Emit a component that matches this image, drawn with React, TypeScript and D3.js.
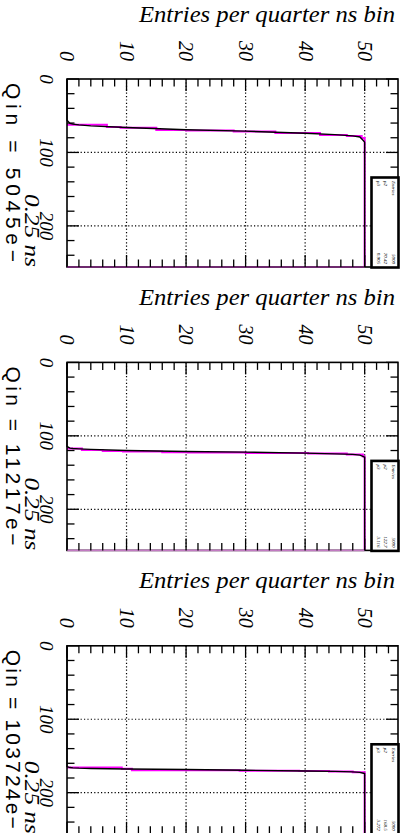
import React from "react";
import * as d3 from "d3";

const W = 401;
const H = 833;
const PANEL_STEP = 283.4;

// axis ticks
const entryTicks = [0, 10, 20, 30, 40, 50];
const timeTicks = [0, 100, 200];

// per-panel text
const qinLabels = ["Qin = 5045e−", "Qin = 11217e−", "Qin = 103724e−"];
const statNames = ["Entries", "p2", "p3"];
const statValues1 = ["5000", "70.42", "0.905"];
const statValues2 = ["5000", "122.7", "3.116"];
const statValues3 = ["5000", "168.5", "3.272"];

// histogram trace: entries sampled along the ramp, times per panel
const curveEntries = [0, 0, 0.5, 1, 2, 4, 10, 20, 30, 40, 45, 48, 49.2, 49.8, 50, 50];
const curveTimes1 = [0, 56, 60.4, 61.5, 62.5, 63.8, 66, 69.2, 71, 73.8, 75.8, 77.5, 79, 84, 86, 256];
const curveTimes2 = [0, 114.5, 116.7, 117.3, 117.8, 118.5, 120, 121.3, 122.2, 123.5, 124.5, 125.3, 126.2, 128.2, 129, 256];
const curveTimes3 = [0, 164.5, 165.8, 166.2, 166.6, 167, 167.7, 168.5, 169.5, 170.4, 171, 171.7, 172.3, 173.5, 174, 256];

// fitted step trace (bin edges in entries, level in time)
const stepEdges1 = [0, 6.7, 9, 15, 20, 28, 35, 42.5, 47, 49.5, 50];
const stepTimes1 = [62.3, 65.5, 66.5, 69.3, 70.2, 71.5, 73.5, 76.2, 77.5, 80.5];
const stepEdges2 = [0, 2.5, 6, 9.4, 16, 20.3, 30, 40.5, 47, 49.7, 50];
const stepTimes2 = [117.2, 119.3, 120.8, 121.2, 122.2, 122.6, 123.3, 124.2, 125.5, 128];
const stepEdges3 = [0, 9.2, 10.9, 20, 29, 39, 44, 48, 50];
const stepTimes3 = [165.8, 167.5, 169.3, 169.6, 170, 170.6, 171.2, 172.3];

const panels = [
  { qin: qinLabels[0], stats: statValues1, times: curveTimes1, edges: stepEdges1, steps: stepTimes1, bottom: "#6e2a6e" },
  { qin: qinLabels[1], stats: statValues2, times: curveTimes2, edges: stepEdges2, steps: stepTimes2, bottom: "#c27ac2" },
  { qin: qinLabels[2], stats: statValues3, times: curveTimes3, edges: stepEdges3, steps: stepTimes3, bottom: "#c27ac2" },
];

const SERIF = "Liberation Serif, Times New Roman, Times, Nimbus Roman, DejaVu Serif, serif";
const SANS = "Liberation Sans, Arial, Helvetica, sans-serif";

function Panel({ index }: { index: number }) {
  const p = panels[index];
  const oy = index * PANEL_STEP;
  const x = d3.scaleLinear().domain([0, 55.6]).range([67, 398]);
  const y = d3.scaleLinear().domain([0, 256]).range([79, 267]);
  const [x0, x1] = x.range();
  const [y0, y1] = y.range();

  const pts: [number, number][] = curveEntries.map((e, i) => [e, p.times[i]]);
  const line = d3
    .line<[number, number]>()
    .x((d) => x(d[0]))
    .y((d) => y(d[1]));

  // step path for the fit
  const sp = d3.path();
  sp.moveTo(x(p.edges[0]), y(p.steps[0]));
  p.steps.forEach((t, i) => {
    if (i > 0) sp.lineTo(x(p.edges[i]), y(t));
    sp.lineTo(x(p.edges[i + 1]), y(t));
  });
  sp.lineTo(x(p.edges[p.edges.length - 1]), y(256));

  const xMinor = d3.range(0, 56, 2).filter((v) => v % 10 !== 0);
  const yMinor = d3.range(0, 257, 20).filter((v) => v % 100 !== 0);
  const majorLen = 12;
  const minorLen = 7.5;
  const serifItalic = { fontFamily: SERIF, fontStyle: "italic" as const };

  return (
    <g transform={`translate(0,${oy})`}>
      <text x={395} y={21.5} textAnchor="end" style={{ ...serifItalic, fontSize: 23 }}
        textLength={256} lengthAdjust="spacingAndGlyphs">
        Entries per quarter ns bin
      </text>

      {/* grid */}
      {entryTicks.filter((v) => v > 0).map((v) => (
        <line key={"gx" + v} x1={x(v)} x2={x(v)} y1={y0} y2={y1} stroke="#000" strokeWidth={1.2} strokeDasharray="1.2 2.2" />
      ))}
      {timeTicks.filter((v) => v > 0).map((v) => (
        <line key={"gy" + v} x1={x0} x2={x1} y1={y(v)} y2={y(v)} stroke="#000" strokeWidth={1.2} strokeDasharray="1.2 2.2" />
      ))}

      {/* fit trace */}
      <path d={sp.toString()} fill="none" stroke="#ff00ff" strokeWidth={2} />
      {/* histogram trace */}
      <path d={line(pts) || ""} fill="none" stroke="#000" strokeWidth={1.4} />

      {/* frame */}
      <rect x={x0} y={y0} width={x1 - x0} height={y1 - y0} fill="none" stroke="#000" strokeWidth={1.6} />
      <line x1={x(0)} x2={x(50)} y1={y1} y2={y1} stroke={p.bottom} strokeWidth={1.8} />

      {/* ticks on entries axis (top and bottom) */}
      {entryTicks.map((v) => (
        <g key={"tx" + v}>
          <line x1={x(v)} x2={x(v)} y1={y0} y2={y0 + majorLen} stroke="#000" strokeWidth={1.3} />
          <line x1={x(v)} x2={x(v)} y1={y1} y2={y1 - majorLen} stroke="#000" strokeWidth={1.3} />
        </g>
      ))}
      {xMinor.map((v) => (
        <g key={"mx" + v}>
          <line x1={x(v)} x2={x(v)} y1={y0} y2={y0 + minorLen} stroke="#000" strokeWidth={1.3} />
          <line x1={x(v)} x2={x(v)} y1={y1} y2={y1 - minorLen} stroke="#000" strokeWidth={1.3} />
        </g>
      ))}
      {/* ticks on time axis (left and right) */}
      {timeTicks.map((v) => (
        <g key={"ty" + v}>
          <line x1={x0} x2={x0 + majorLen} y1={y(v)} y2={y(v)} stroke="#000" strokeWidth={1.3} />
          <line x1={x1} x2={x1 - majorLen} y1={y(v)} y2={y(v)} stroke="#000" strokeWidth={1.3} />
        </g>
      ))}
      {yMinor.map((v) => (
        <g key={"my" + v}>
          <line x1={x0} x2={x0 + minorLen} y1={y(v)} y2={y(v)} stroke="#000" strokeWidth={1.3} />
          <line x1={x1} x2={x1 - minorLen} y1={y(v)} y2={y(v)} stroke="#000" strokeWidth={1.3} />
        </g>
      ))}

      {/* tick labels */}
      {entryTicks.map((v) => (
        <text key={"lx" + v} transform={`translate(${x(v)},${y0 - 18}) rotate(90)`} textAnchor="end" dy="0.33em"
          style={{ ...serifItalic, fontSize: 20 }}>
          {v}
        </text>
      ))}
      {timeTicks.map((v) => (
        <text key={"ly" + v} transform={`translate(40,${y(v)}) rotate(90)`} textAnchor="middle"
          style={{ ...serifItalic, fontSize: 19 }}>
          {v}
        </text>
      ))}
      <text transform={`translate(24.5,${y1}) rotate(90)`} textAnchor="end" style={{ ...serifItalic, fontSize: 21 }}
        textLength={73} lengthAdjust="spacingAndGlyphs">
        0.25 ns
      </text>
      <text transform={`translate(6,${y0 + 4}) rotate(90)`} textAnchor="start" style={{ fontFamily: SANS, fontSize: 21 }}
        textLength={179} lengthAdjust="spacing">
        {p.qin}
      </text>

      {/* stats box */}
      <rect x={371.5} y={177.5} width={27} height={90} fill="#fff" stroke="#000" strokeWidth={2.6} />
      {statNames.map((n, i) => {
        const bx = 391.5 - i * 7.5;
        return (
          <g key={"s" + i}>
            <text transform={`translate(${bx},181) rotate(90)`} textAnchor="start" style={{ ...serifItalic, fontSize: 5 }}>
              {n}
            </text>
            <text transform={`translate(${bx},264) rotate(90)`} textAnchor="end" style={{ ...serifItalic, fontSize: 5 }}>
              {p.stats[i]}
            </text>
          </g>
        );
      })}
    </g>
  );
}

export default function App() {
  return (
    <svg width={W} height={H} viewBox={`0 0 ${W} ${H}`}
      style={{ position: "absolute", left: 0, top: 0, display: "block", background: "#fff" }}>
      <rect width={W} height={H} fill="#fff" />
      {panels.map((_, i) => (
        <Panel key={i} index={i} />
      ))}
    </svg>
  );
}
